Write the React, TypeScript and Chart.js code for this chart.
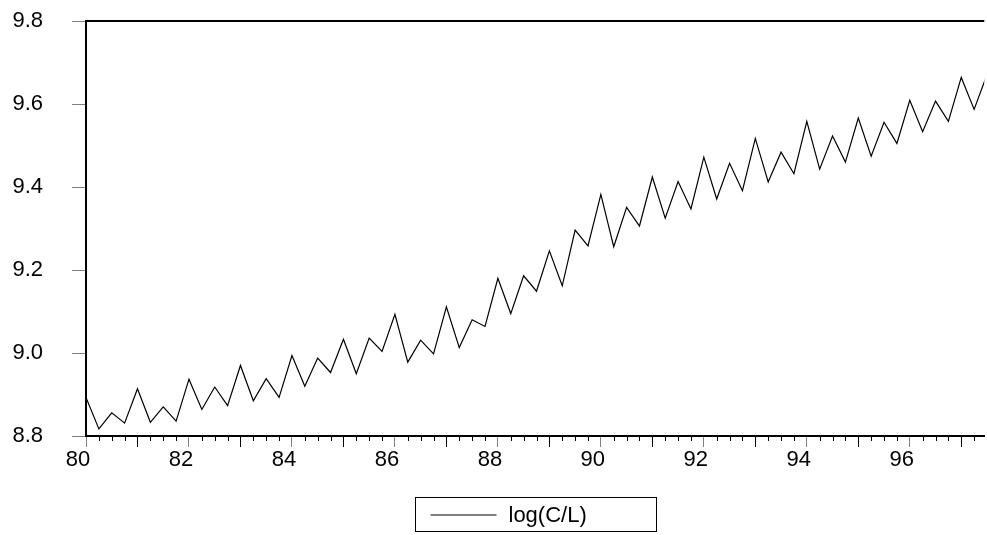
import React, { useEffect, useRef } from "react";
import { Chart, registerables } from "chart.js";

Chart.register(...registerables);

// Quarterly periods 1980Q1 .. 1997Q3
const years = [1980, 1981, 1982, 1983, 1984, 1985, 1986, 1987, 1988, 1989, 1990, 1991, 1992, 1993, 1994, 1995, 1996, 1997];
const quarterNames = ["Q1", "Q2", "Q3", "Q4"];
const periods: string[] = years
  .flatMap((y) => quarterNames.map((q) => `${y}${q}`))
  .slice(0, 71);

const seriesLabel = "log(C/L)";
const logCL = [
  8.893, 8.817, 8.856, 8.831, 8.914, 8.833, 8.870, 8.836,
  8.937, 8.864, 8.918, 8.873, 8.970, 8.885, 8.938, 8.893,
  8.994, 8.920, 8.988, 8.953, 9.033, 8.950, 9.036, 9.004,
  9.093, 8.978, 9.031, 8.998, 9.111, 9.013, 9.080, 9.064,
  9.180, 9.095, 9.186, 9.149, 9.246, 9.162, 9.296, 9.258,
  9.382, 9.256, 9.351, 9.306, 9.424, 9.325, 9.413, 9.347,
  9.472, 9.371, 9.457, 9.391, 9.517, 9.412, 9.484, 9.432,
  9.558, 9.443, 9.523, 9.460, 9.566, 9.474, 9.556, 9.505,
  9.609, 9.533, 9.607, 9.558, 9.664, 9.587, 9.671,
];

const yMin = 8.8;
const yMax = 9.8;
const yStep = 0.2;
const xVisibleMax = 69.79; // plot is cut at the right edge

const FONT = "'Liberation Sans', Arial, sans-serif";

const decorPlugin = {
  id: "decor",
  afterDraw(chart: any) {
    const { ctx, chartArea: a, scales } = chart;
    const xs = scales.x;
    ctx.save();
    // short quarterly ticks
    ctx.strokeStyle = "#000";
    ctx.lineWidth = 1;
    ctx.beginPath();
    for (const t of xs.ticks) {
      if (t.value % 4 !== 0) {
        const px = Math.round(xs.getPixelForValue(t.value)) + 0.5;
        ctx.moveTo(px, a.bottom);
        ctx.lineTo(px, a.bottom + 5);
      }
    }
    ctx.stroke();
    // top frame line
    ctx.lineWidth = 2;
    ctx.beginPath();
    ctx.moveTo(a.left - 1, a.top);
    ctx.lineTo(a.right, a.top);
    ctx.stroke();

    // legend box
    const ds = chart.data.datasets[0];
    const cx = (a.left + a.right) / 2;
    const bw = 241;
    const bh = 34;
    const bx = Math.round(cx - bw / 2) + 0.5;
    const by = Math.round(a.bottom + 61) + 0.5;
    ctx.lineWidth = 1;
    ctx.strokeStyle = "#000";
    ctx.strokeRect(bx, by, bw, bh);
    const ly = Math.round(by + bh / 2);
    ctx.beginPath();
    ctx.moveTo(bx + 15, ly);
    ctx.lineTo(bx + 81, ly);
    ctx.lineWidth = 1;
    ctx.stroke();
    ctx.fillStyle = "#000";
    ctx.font = `22px ${FONT}`;
    ctx.textAlign = "left";
    ctx.textBaseline = "middle";
    ctx.fillText(ds.label, bx + 93, ly + 1);
    ctx.restore();
  },
};

export default function App() {
  const canvasRef = useRef<HTMLCanvasElement | null>(null);

  useEffect(() => {
    if (!canvasRef.current) return;
    const chart = new Chart(canvasRef.current, {
      type: "line",
      data: {
        datasets: [
          {
            label: seriesLabel,
            data: logCL.map((v, i) => ({ x: i, y: v })),
            borderColor: "#000",
            borderWidth: 1.2,
            pointRadius: 0,
            tension: 0,
            fill: false,
          },
        ],
      },
      options: {
        animation: false,
        responsive: true,
        maintainAspectRatio: false,
        devicePixelRatio: 1,
        layout: { padding: { top: 21, right: 0, left: 0, bottom: 59 } },
        plugins: {
          legend: { display: false },
          tooltip: { enabled: false },
        },
        scales: {
          x: {
            type: "linear",
            min: 0,
            max: xVisibleMax,
            afterBuildTicks: (scale: any) => {
              scale.ticks = periods.map((_, i) => ({ value: i }));
            },
            afterFit: (scale: any) => {
              scale.height = 40;
            },
            ticks: {
              autoSkip: false,
              maxRotation: 0,
              minRotation: 0,
              padding: 0,
              labelOffset: -8,
              color: "#000",
              font: { family: FONT, size: 22 },
              callback: (value: any) => {
                const i = Math.round(Number(value));
                return i % 8 === 0 && periods[i] ? periods[i].slice(2, 4) : "";
              },
            },
            grid: {
              drawOnChartArea: false,
              drawTicks: true,
              tickLength: 11,
              lineWidth: 1,
              color: (c: any) => {
                const v = c.tick ? c.tick.value : 0;
                if (v % 8 === 0) return "#808080";
                if (v % 4 === 0) return "#000";
                return "rgba(0,0,0,0)";
              },
            },
            border: { display: true, color: "#000", width: 2 },
          },
          y: {
            min: yMin,
            max: yMax,
            afterFit: (scale: any) => {
              scale.width = 86;
              scale.paddingTop = 0;
              scale.paddingBottom = 0;
            },
            ticks: {
              stepSize: yStep,
              padding: 29,
              color: "#000",
              font: { family: FONT, size: 22 },
              callback: (v: any) => Number(v).toFixed(1),
            },
            grid: {
              drawOnChartArea: false,
              drawTicks: true,
              tickLength: 14,
              color: "#808080",
              lineWidth: 1,
            },
            border: { display: true, color: "#000", width: 2 },
          },
        },
      },
      plugins: [decorPlugin],
    });
    return () => chart.destroy();
  }, []);

  return (
    <div style={{ position: "absolute", left: 0, top: 0, width: 987, height: 535, background: "#fff" }}>
      <canvas ref={canvasRef} />
    </div>
  );
}
